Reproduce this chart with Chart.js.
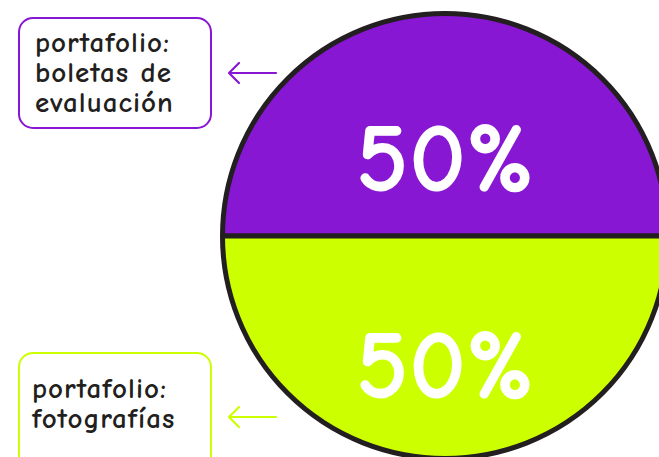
<!DOCTYPE html>
<html>
<head>
<meta charset="utf-8">
<script src="https://cdn.jsdelivr.net/npm/chart.js@4"></script>
<style>
  html, body { margin: 0; padding: 0; background: #fff; width: 659px; height: 457px; overflow: hidden; }
  #wrap { position: absolute; left: 220px; top: 11px; width: 450px; height: 450px; }
  .box { position: absolute; left: 18px; width: 194px; border: 2px solid; border-radius: 15px;
         box-sizing: border-box; padding: 9px 0 0 15px; font-family: 'Comic Neue', 'Comic Sans MS', 'Lato', sans-serif;
         font-size: 29px; font-weight: bold; line-height: 30px; letter-spacing: 1px; color: #231f20; }
  .arrow { position: absolute; left: 226px; }
</style>
</head>
<body>
<div id="wrap"><canvas id="c"></canvas></div>
<div id="notes"></div>
<script>
  var categories = ['portafolio: boletas de evaluación', 'portafolio: fotografías'];
  var labelLines = [['portafolio:', 'boletas de', 'evaluación'], ['portafolio:', 'fotografías']];
  var values = [50, 50];
  var colors = ['#8717d3', '#ccff00'];

  // cajas de texto con flecha
  var notes = document.getElementById('notes');
  var boxTops = [17, 352], boxHeights = [112, 120], arrowY = [73, 417];
  labelLines.forEach(function (lines, i) {
    var b = document.createElement('div');
    b.className = 'box';
    b.style.top = boxTops[i] + 'px';
    b.style.height = boxHeights[i] + 'px';
    b.style.borderColor = colors[i];
    if (i === 1) { b.style.paddingTop = '20px'; b.style.paddingLeft = '12px'; }
    b.innerHTML = lines.join('<br>');
    notes.appendChild(b);
    var s = document.createElementNS('http://www.w3.org/2000/svg', 'svg');
    s.setAttribute('class', 'arrow');
    s.setAttribute('width', 54); s.setAttribute('height', 26);
    s.style.top = (arrowY[i] - 13) + 'px';
    s.innerHTML = '<path d="M50 13 H3 M13 3 L3 13 L13 23" fill="none" stroke="' + colors[i] + '" stroke-width="2.2" stroke-linecap="round" stroke-linejoin="round"/>';
    notes.appendChild(s);
  });

  var pctLabels = {
    id: 'pctLabels',
    afterDatasetsDraw: function (chart, args, opts) {
      var ctx = chart.ctx, meta = chart.getDatasetMeta(0);
      var total = values.reduce(function (a, b) { return a + b; }, 0);
      ctx.save();
      ctx.fillStyle = '#fff';
      ctx.font = '600 100px "Comic Neue", "Comic Sans MS", "Lato", sans-serif';
      ctx.textAlign = 'center';
      ctx.textBaseline = 'middle';
      meta.data.forEach(function (arc, i) {
        var mid = (arc.startAngle + arc.endAngle) / 2;
        var r = arc.outerRadius * opts.dist[i];
        ctx.fillText(Math.round(values[i] / total * 100) + '%', arc.x + Math.cos(mid) * r, arc.y + Math.sin(mid) * r);
      });
      ctx.restore();
    }
  };

  new Chart(document.getElementById('c'), {
    type: 'pie',
    data: {
      labels: categories,
      datasets: [{ data: values, backgroundColor: colors, borderColor: '#231f20', borderWidth: 5 }]
    },
    options: {
      responsive: true,
      maintainAspectRatio: false,
      animation: false,
      rotation: -90,
      layout: { padding: 0 },
      plugins: {
        legend: { display: false },
        tooltip: { enabled: false },
        pctLabels: { dist: [0.33, 0.6] }
      }
    },
    plugins: [pctLabels]
  });
</script>
</body>
</html>
